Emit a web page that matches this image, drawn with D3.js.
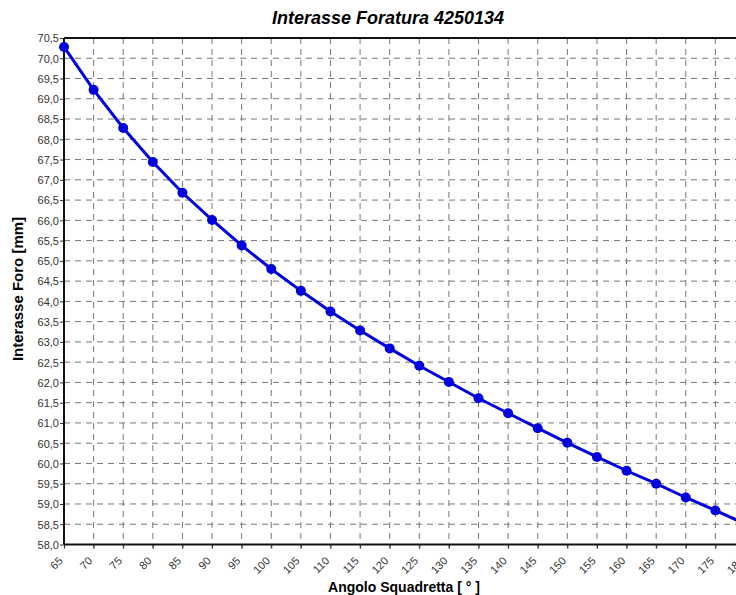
<!DOCTYPE html>
<html>
<head>
<meta charset="utf-8">
<script src="https://cdn.jsdelivr.net/npm/d3@7"></script>
<style>
  body { margin:0; background:#fff; }
  svg text { font-family: "Liberation Sans", Arial, sans-serif; }
</style>
</head>
<body>
<div id="chart"></div>
<script>
// data
var angles = [65,70,75,80,85,90,95,100,105,110,115,120,125,130,135,140,145,150,155,160,165,170,175,180];
var interasse = [70.28,69.22,68.28,67.44,66.68,66.01,65.38,64.80,64.26,63.75,63.28,62.84,62.41,62.01,61.61,61.24,60.87,60.51,60.16,59.82,59.50,59.16,58.84,58.51];
var xTicks = d3.range(65, 181, 5);
var yTicks = d3.range(58, 70.51, 0.5);

var fullWidth = 736;
var fullHeight = 595;
var margin = {top:38, left:64};
var width = 681;   // plot runs past the right edge of the window
var height = 506.5;

var svg = d3.select("#chart")
			.append("svg")
			.attr("width", fullWidth)
			.attr("height", fullHeight);

var g = svg.append("g")
			.attr("transform", "translate(" + margin.left + "," + margin.top + ")");

var xScale = d3.scaleLinear().domain([65, 180]).range([0, width]);
var yScale = d3.scaleLinear().domain([58, 70.5]).range([height, 0]);

// grid
g.append("g").selectAll("line")
	.data(yTicks.slice(1, -1))
	.enter().append("line")
	.attr("x1", 0).attr("x2", width)
	.attr("y1", d => yScale(d)).attr("y2", d => yScale(d))
	.attr("stroke", "#777").attr("stroke-width", 1)
	.attr("stroke-dasharray", "6,5");

g.append("g").selectAll("line")
	.data(xTicks.slice(1))
	.enter().append("line")
	.attr("x1", d => xScale(d)).attr("x2", d => xScale(d))
	.attr("y1", 0).attr("y2", height + 4)
	.attr("stroke", "#777").attr("stroke-width", 1)
	.attr("stroke-dasharray", "6,5");

// axes
var yAxis = d3.axisLeft(yScale).tickValues(yTicks).tickSize(4)
	.tickFormat(d => d3.format(".1f")(d).replace(".", ","));
var xAxis = d3.axisBottom(xScale).tickValues(xTicks).tickSize(4).tickFormat(d3.format("d"));

var ya = g.append("g").call(yAxis);
ya.select(".domain").remove();
ya.selectAll("line").attr("stroke", "#333");
ya.selectAll("text").attr("font-size", 11).attr("fill", "#333").attr("dy", "0.35em").attr("x", -5);

var xa = g.append("g").attr("transform", "translate(0," + height + ")").call(xAxis);
xa.select(".domain").remove();
xa.selectAll("line").attr("stroke", "#333");
xa.selectAll("text")
	.attr("font-size", 11).attr("fill", "#333")
	.attr("text-anchor", "end")
	.attr("x", 0).attr("y", 0).attr("dy", 0)
	.attr("transform", "translate(-1,17) rotate(-45)");

// frame
g.append("line").attr("x1", 0).attr("x2", width).attr("y1", 0).attr("y2", 0)
	.attr("stroke", "#111").attr("stroke-width", 2);
g.append("line").attr("x1", 0).attr("x2", width).attr("y1", height).attr("y2", height)
	.attr("stroke", "#111").attr("stroke-width", 2);
g.append("line").attr("x1", 0).attr("x2", 0).attr("y1", 0).attr("y2", height)
	.attr("stroke", "#111").attr("stroke-width", 2);

// series
var line = d3.line()
	.x((d, i) => xScale(angles[i]))
	.y(d => yScale(d));

g.append("path")
	.datum(interasse)
	.attr("fill", "none")
	.attr("stroke", "#0000dd")
	.attr("stroke-width", 3)
	.attr("d", line);

g.selectAll("circle")
	.data(interasse)
	.enter().append("circle")
	.attr("cx", (d, i) => xScale(angles[i]))
	.attr("cy", d => yScale(d))
	.attr("r", 5)
	.attr("fill", "#0000dd");

// titles
svg.append("text")
	.attr("x", 388).attr("y", 24)
	.attr("text-anchor", "middle")
	.attr("font-size", 18).attr("font-weight", "bold").attr("font-style", "italic")
	.text("Interasse Foratura 4250134");

svg.append("text")
	.attr("x", 404).attr("y", 592)
	.attr("text-anchor", "middle")
	.attr("font-size", 14).attr("font-weight", "bold")
	.text("Angolo Squadretta [ ° ]");

svg.append("text")
	.attr("transform", "translate(23,289) rotate(-90)")
	.attr("text-anchor", "middle")
	.attr("font-size", 15).attr("font-weight", "bold")
	.text("Interasse Foro [mm]");
</script>
</body>
</html>
